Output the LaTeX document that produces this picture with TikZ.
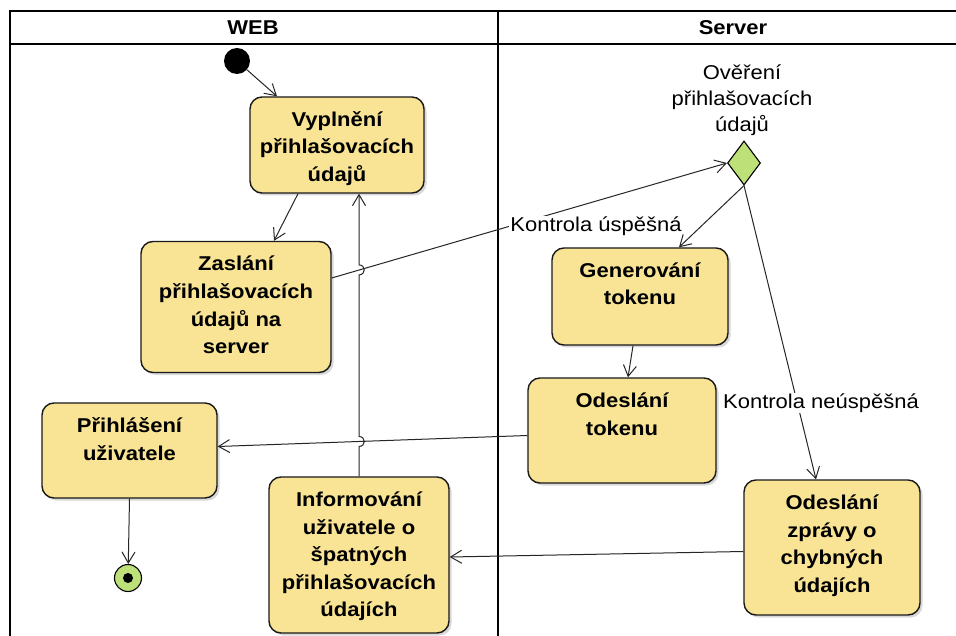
\documentclass[tikz,border=0pt]{standalone}
\usepackage{fontspec}
\setmainfont[FakeStretch=1.1]{Liberation Sans}
\usetikzlibrary{arrows.meta,shapes.geometric,shadows,calc}
\definecolor{boxfill}{RGB}{248,228,148}
\definecolor{greenfill}{RGB}{190,224,120}
\begin{document}
\begin{tikzpicture}[x=1pt,y=-1pt,
  box/.style={draw=black!90, line width=1.4pt, fill=boxfill, rounded corners=12pt, inner sep=0pt,
    drop shadow={shadow xshift=2.5pt,shadow yshift=-2.5pt,opacity=0.3}},
  boxtext/.style={anchor=north, inner sep=0pt, align=center, font=\fontsize{20}{27.5}\selectfont\bfseries},
  lbl/.style={inner sep=1pt, fill=white, align=center, font=\fontsize{20}{26}\selectfont},
  flow/.style={draw=black!85, line width=1pt, -{Straight Barb[length=11pt,width=13pt,line width=1pt]}},
  lane/.style={draw=black, line width=1.4pt},
  hdr/.style={font=\fontsize{20}{24}\selectfont\bfseries, inner sep=0pt}]

\useasboundingbox (0,0) rectangle (956,636);
\fill[white] (0,0) rectangle (956,636);

% swimlanes
\draw[lane] (10,636) -- (10,11) -- (956,11);
\draw[lane] (10,44) -- (956,44);
\draw[lane] (498,11) -- (498,636);
\node[hdr] (hweb) at (253,28) {WEB};
\node[hdr] (hsrv) at (733,28) {Server};

% start / end
\node[circle, fill=black, minimum size=26pt, inner sep=0pt] (st) at (237,61) {};
\node[circle, draw=black, line width=1.1pt, fill=greenfill, minimum size=27pt, inner sep=0pt] (en) at (128,578) {};
\node[circle, fill=black, minimum size=10pt, inner sep=0pt] (endot) at (en) {};

% actions
\node[box, minimum width=174pt, minimum height=96pt] (vy) at (337,145) {};
\node[boxtext] (vyt) at ([yshift=-9pt]vy.north) {\rule{0pt}{21pt}Vyplnění\\přihlašovacích\\údajů};

\node[box, minimum width=190pt, minimum height=131pt] (za) at (236,307) {};
\node[boxtext] (zat) at ([yshift=-9pt]za.north) {\rule{0pt}{21pt}Zaslání\\přihlašovacích\\údajů na\\server};

\node[box, minimum width=175pt, minimum height=95pt] (pr) at (129.5,450.5) {};
\node[boxtext] (prt) at ([yshift=-9pt]pr.north) {\rule{0pt}{21pt}Přihlášení\\uživatele};

\node[box, minimum width=180pt, minimum height=156pt] (inf) at (359,555) {};
\node[boxtext] (inft) at ([yshift=-9pt]inf.north) {\rule{0pt}{21pt}Informování\\uživatele o\\špatných\\přihlašovacích\\údajích};

\node[box, minimum width=176pt, minimum height=97pt] (ge) at (640,296.5) {};
\node[boxtext] (get) at ([yshift=-9pt]ge.north) {\rule{0pt}{21pt}Generování\\tokenu};

\node[box, minimum width=188pt, minimum height=105pt] (ot) at (622,430.5) {};
\node[boxtext] (ott) at ([yshift=-9pt]ot.north) {\rule{0pt}{21pt}Odeslání\\tokenu};

\node[box, minimum width=176pt, minimum height=135pt] (oz) at (832,547.5) {};
\node[boxtext] (ozt) at ([yshift=-9pt]oz.north) {\rule{0pt}{21pt}Odeslání\\zprávy o\\chybných\\údajích};

% decision
\node[diamond, draw=black, line width=1.1pt, fill=greenfill, aspect=0.75, minimum width=33pt, minimum height=44pt, inner sep=0pt] (dia) at (744,163) {};
\node[lbl, fill=none, inner sep=0pt, anchor=north] (diat) at (742,58) {\rule{0pt}{21pt}Ověření\\přihlašovacích\\údajů};

% connectors
\draw[flow] (st) -- ([xshift=-60pt]vy.north);
\draw[flow] ([xshift=-39pt]vy.south) -- ([xshift=38pt]za.north);
\draw[flow] ([yshift=29pt]za.east) -- (dia.west);
\node[lbl] (l1) at (596,226) {Kontrola úspěšná};
\draw[flow] (dia.south) -- ([xshift=39pt]ge.north);
\draw[flow] (dia.south) -- ([xshift=-16pt]oz.north);
\node[lbl] (l2) at (821,403) {Kontrola neúspěšná};
\draw[flow] ([xshift=-7pt]ge.south) -- ([xshift=6pt]ot.north);
\draw[flow] ([yshift=-5pt]ot.west) -- ([yshift=4pt]pr.east);
\draw[flow] ([yshift=-4pt]oz.west) -- ([yshift=-2pt]inf.east);
\draw[flow] (pr.south) -- (en);
\draw[flow] (inf.north) -- (359,446.5) .. controls (366,446.5) and (366,436.5) .. (359,436.5)
  -- (359,274.9) .. controls (366,274.9) and (366,264.9) .. (359,264.9)
  -- (inf.north |- vy.south);
\end{tikzpicture}
\end{document}
